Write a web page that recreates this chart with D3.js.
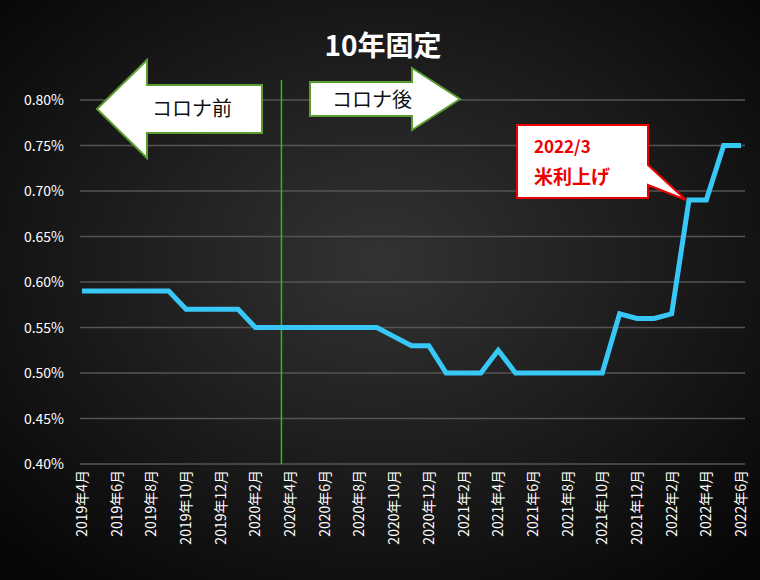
<!DOCTYPE html>
<html><head><meta charset="utf-8">
<script src="https://cdn.jsdelivr.net/npm/d3@7"></script>
<style>body{margin:0;background:#111}text{font-family:"Noto Sans CJK JP","Noto Sans",sans-serif}</style>
</head><body>
<svg id="c" width="760" height="580"></svg>
<script>
var months = [];
for (var y = 2019, m = 4; !(y == 2022 && m == 7); m++) { if (m > 12) { m = 1; y++ } months.push(y + "年" + m + "月") }
var rates = [0.59,0.59,0.59,0.59,0.59,0.59,0.57,0.57,0.57,0.57,0.55,0.55,
  0.55,0.55,0.55,0.55,0.55,0.55,0.54,0.53,0.53,0.50,0.50,0.50,
  0.525,0.50,0.50,0.50,0.50,0.50,0.50,0.565,0.56,0.56,0.565,0.69,
  0.69,0.75,0.75];
var yTicks = [0.40,0.45,0.50,0.55,0.60,0.65,0.70,0.75,0.80];

var svg = d3.select("#c");
var defs = svg.append("defs");
var g = defs.append("radialGradient").attr("id","bg").attr("cx","50%").attr("cy","45%").attr("r","70%");
g.append("stop").attr("offset","0%").attr("stop-color","#333");
g.append("stop").attr("offset","100%").attr("stop-color","#060606");
svg.append("rect").attr("width",760).attr("height",580).attr("fill","url(#bg)");

var x = d3.scalePoint().domain(months).range([82, 741]);
var yS = d3.scaleLinear().domain([0.40, 0.80]).range([464, 100]);

svg.selectAll(".grid").data(yTicks).enter().append("line")
  .attr("x1",80).attr("x2",745).attr("y1",yS).attr("y2",yS)
  .attr("stroke","#555").attr("stroke-width",1.3);

svg.selectAll(".yl").data(yTicks).enter().append("text")
  .attr("x",64).attr("y",function(d){return yS(d)+5})
  .attr("text-anchor","end").attr("fill","#fff").attr("font-size",14)
  .text(function(d){return d.toFixed(2) + "%"});

svg.selectAll(".xl").data(months.filter(function(d,i){return i%2==0})).enter().append("text")
  .attr("transform",function(d){return "translate("+(x(d)+5)+",470) rotate(-90)"})
  .attr("text-anchor","end").attr("fill","#fff").attr("font-size",14)
  .text(function(d){return d});

var gx = (x(months[11]) + x(months[12])) / 2;
svg.append("line").attr("x1",gx).attr("x2",gx).attr("y1",80).attr("y2",464)
  .attr("stroke","#22c022").attr("stroke-width",1.5);

svg.append("path").datum(rates)
  .attr("d", d3.line().x(function(d,i){return x(months[i])}).y(yS))
  .attr("fill","none").attr("stroke","#38c8f8").attr("stroke-width",5).attr("stroke-linejoin","miter");

// arrows
svg.append("path").attr("d","M97,109 L147,60 L147,85 L262,85 L262,133 L147,133 L147,158 Z")
  .attr("fill","#fff").attr("stroke","#5a9e32").attr("stroke-width",2);
svg.append("text").attr("x",192).attr("y",116).attr("text-anchor","middle").attr("fill","#111").attr("font-size",20).text("コロナ前");
svg.append("path").attr("d","M310,82 L412,82 L412,68 L460,99 L412,130 L412,116 L310,116 Z")
  .attr("fill","#fff").attr("stroke","#5a9e32").attr("stroke-width",2);
svg.append("text").attr("x",372).attr("y",107).attr("text-anchor","middle").attr("fill","#111").attr("font-size",20).text("コロナ後");

// callout
svg.append("path").attr("d","M517,125 L648,125 L648,165 L686,200 L648,185 L648,198 L517,198 Z")
  .attr("fill","#fff").attr("stroke","#e00").attr("stroke-width",2);
svg.append("text").attr("x",534).attr("y",153).attr("fill","#e00").attr("font-size",17).attr("font-weight","bold").text("2022/3");
svg.append("text").attr("x",534).attr("y",184).attr("fill","#e00").attr("font-size",19).attr("font-weight","bold").text("米利上げ");

svg.append("text").attr("x",383).attr("y",56).attr("text-anchor","middle").attr("fill","#fff")
  .attr("font-size",28).attr("font-weight","bold").text("10年固定");
</script>
</body></html>
